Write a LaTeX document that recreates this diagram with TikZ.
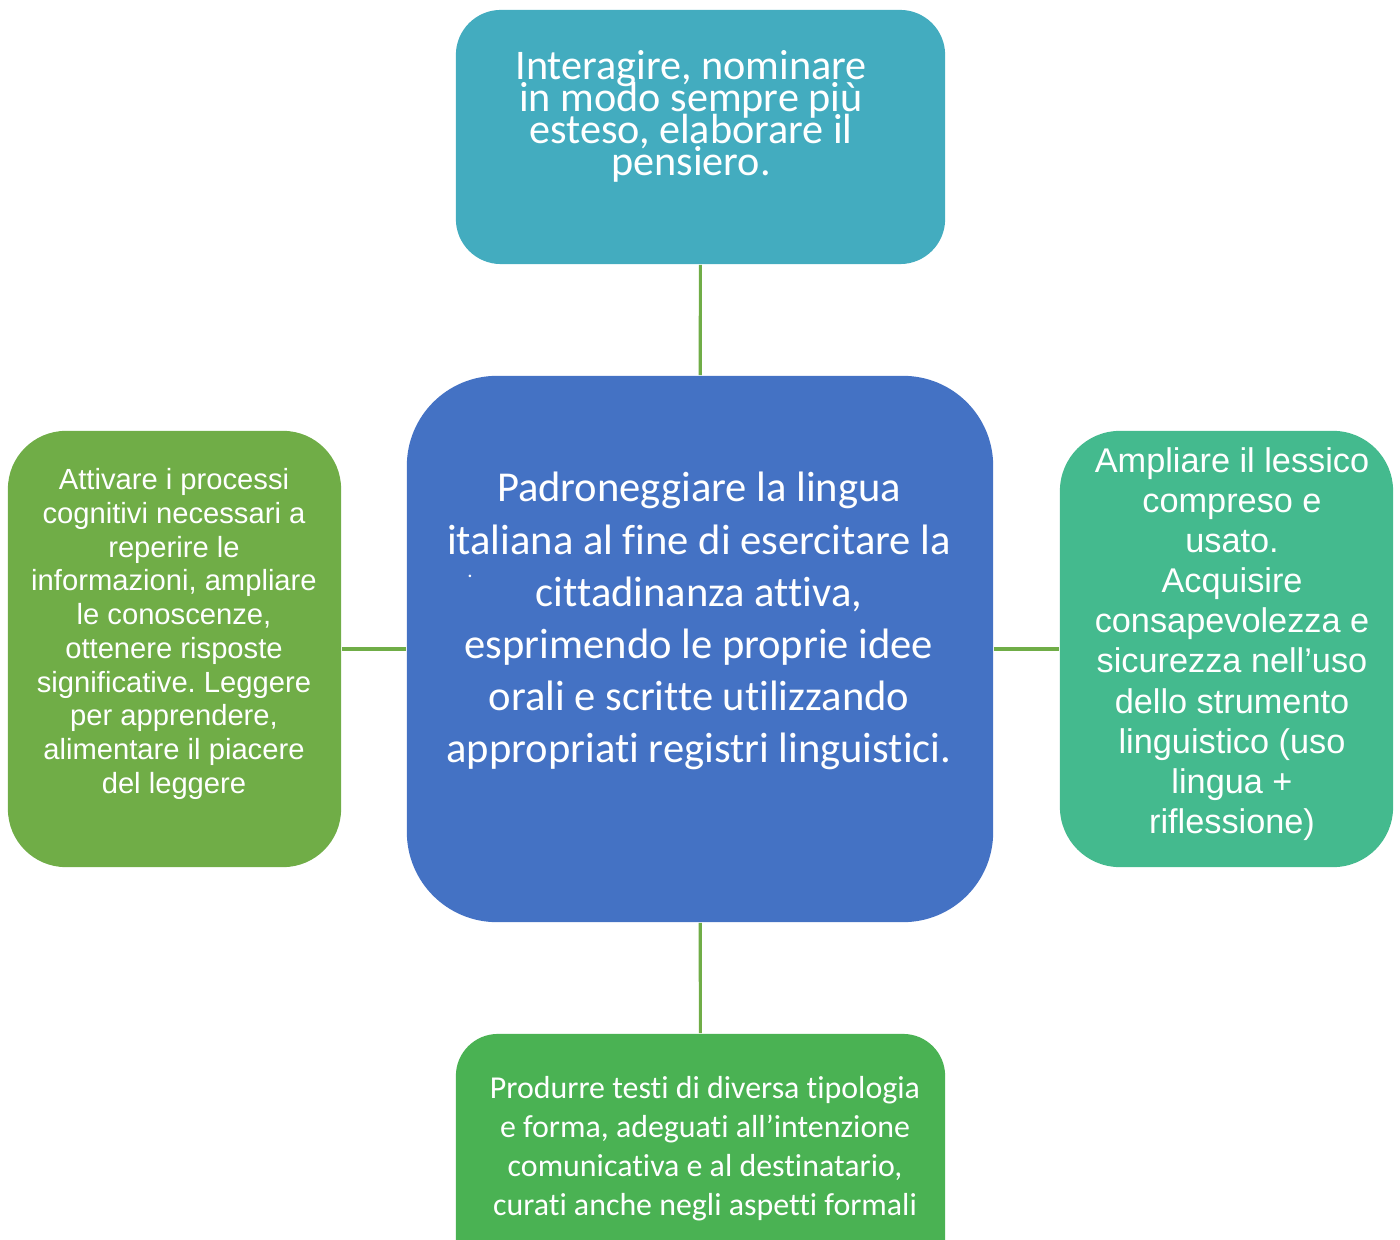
\documentclass[tikz,border=0pt]{standalone}
\usepackage{fontspec}
\setmainfont{Carlito}[Ligatures=NoCommon]
\newfontfamily\arialfont{Liberation Sans}
\frenchspacing
\definecolor{tealbox}{HTML}{43ACBF}
\definecolor{bluebox}{HTML}{4472C4}
\definecolor{leafbox}{HTML}{70AD47}
\definecolor{mintbox}{HTML}{44BA8E}
\definecolor{grassbox}{HTML}{4AB253}
\definecolor{linkgreen}{HTML}{70AD47}
\begin{document}
\begin{tikzpicture}[x=0.01cm,y=-0.01cm,
  box/.style={inner sep=0pt, draw=none},
  txt/.style={text=white, align=center, inner sep=0pt},
  link/.style={draw=linkgreen, line width=0.9pt}]
\useasboundingbox (0,0) rectangle (1400,1240);
\clip (0,0) rectangle (1400,1240);
\node[box, fill=tealbox, rounded corners=0.45cm, minimum width=4.89cm, minimum height=2.54cm] (top) at (700.5,137) {};
\node[box, fill=bluebox, rounded corners=0.9cm, minimum width=5.86cm, minimum height=5.46cm] (mid) at (700,649) {};
\node[box, fill=leafbox, rounded corners=0.58cm, minimum width=3.33cm, minimum height=4.36cm] (left) at (174.5,649) {};
\node[box, fill=mintbox, rounded corners=0.6cm, minimum width=3.33cm, minimum height=4.36cm] (right) at (1226.5,649) {};
\node[box, fill=grassbox, rounded corners=0.42cm, minimum width=4.89cm, minimum height=2.6cm] (bottom) at (700.5,1164) {};
% connettori
\draw[link] (top) -- (mid);
\draw[link] (mid) -- (bottom);
\draw[link] (left) -- (mid);
\draw[link] (mid) -- (right);
% testi
\node[txt, font={\fontsize{12}{9.1}\selectfont\lineskiplimit=-100pt}] (toptext) at (691,116) {Interagire, nominare\\in modo sempre più\\esteso, elaborare il\\pensiero.};
\node[txt, font={\fontsize{12.1}{14.8}\selectfont}] (midtext) at (699,621) {Padroneggiare la lingua\\italiana al fine di esercitare la\\cittadinanza attiva,\\esprimendo le proprie idee\\orali e scritte utilizzando\\appropriati registri linguistici.};
\node[txt, font={\fontsize{6}{6}\selectfont}] (dot) at (470,576) {.};
\node[txt, font={\arialfont\fontsize{8.3}{9.6}\selectfont}] (lefttext) at (174,634) {Attivare i processi\\cognitivi necessari a\\reperire le\\informazioni, ampliare\\le conoscenze,\\ottenere risposte\\significative. Leggere\\per apprendere,\\alimentare il piacere\\del leggere};
\node[txt, font={\arialfont\fontsize{9.75}{11.4}\selectfont}] (righttext) at (1232,644) {Ampliare il lessico\\compreso e\\usato.\\Acquisire\\consapevolezza e\\sicurezza nell’uso\\dello strumento\\linguistico (uso\\lingua +\\riflessione)};
\node[txt, font={\fontsize{9.07}{11.1}\selectfont}] (bottomtext) at (705,1149) {Produrre testi di diversa tipologia\\e forma, adeguati all’intenzione\\comunicativa e al destinatario,\\curati anche negli aspetti formali};
\end{tikzpicture}
\end{document}
